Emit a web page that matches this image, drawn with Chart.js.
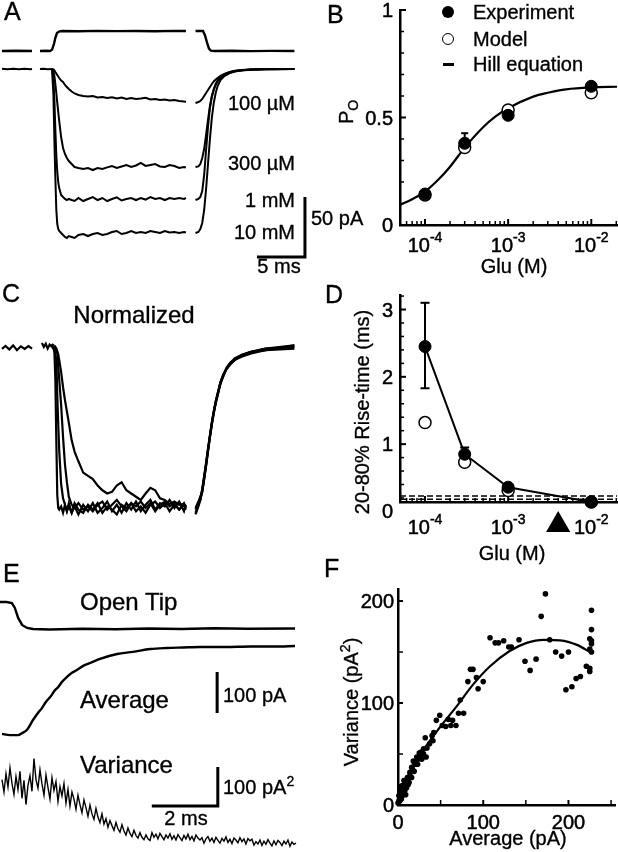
<!DOCTYPE html>
<html>
<head>
<meta charset="utf-8">
<script src="https://cdn.jsdelivr.net/npm/chart.js@4.4.1/dist/chart.umd.min.js"></script>
<style>
  body { margin: 0; background: #fff; }
  #fig { position: relative; width: 618px; height: 852px; overflow: hidden; font-family: "Liberation Sans", Arial, sans-serif; color: #000; }
  #fig canvas { position: absolute; }
  .t { position: absolute; font-size: 20px; line-height: 20px; white-space: nowrap; -webkit-text-stroke: 0.35px #000; }
  .big { font-size: 24px; line-height: 24px; }
  .letter { font-size: 25px; line-height: 25px; }
  .c { transform: translateX(-50%); }
  .r { transform: translateX(-100%); }
  .rot { transform: translate(-50%, -50%) rotate(-90deg); }
  .sup { font-size: 14px; position: relative; top: -8px; }
  .sub { font-size: 14px; position: relative; top: 5px; }
  .sym { position: absolute; box-sizing: border-box; }
</style>
</head>
<body>
<div id="fig">
  <canvas id="chartA" width="310" height="280" style="left:0;top:0"></canvas>
  <canvas id="chartB" width="308" height="280" style="left:310px;top:0"></canvas>
  <canvas id="chartC" width="310" height="260" style="left:0;top:280px"></canvas>
  <canvas id="chartD" width="308" height="260" style="left:310px;top:280px"></canvas>
  <canvas id="chartE" width="310" height="312" style="left:0;top:540px"></canvas>
  <canvas id="chartF" width="308" height="312" style="left:310px;top:540px"></canvas>

  <!-- panel letters -->
  <div class="t letter" style="left:4px;top:-1px">A</div>
  <div class="t letter" style="left:327px;top:2px">B</div>
  <div class="t letter" style="left:2px;top:281px">C</div>
  <div class="t letter" style="left:325px;top:282px">D</div>
  <div class="t letter" style="left:3px;top:561px">E</div>
  <div class="t letter" style="left:324px;top:556px">F</div>

  <!-- A -->
  <div class="t r" style="left:295px;top:93px">100 µM</div>
  <div class="t r" style="left:295px;top:153px">300 µM</div>
  <div class="t r" style="left:295px;top:190px">1 mM</div>
  <div class="t r" style="left:295px;top:222px">10 mM</div>
  <div class="t" style="left:311px;top:208px">50 pA</div>
  <div class="t c" style="left:279px;top:256px">5 ms</div>

  <!-- B -->
  <div class="sym" style="left:442px;top:6px;width:12px;height:12px;border-radius:50%;background:#000"></div>
  <div class="sym" style="left:442px;top:33px;width:12px;height:12px;border-radius:50%;border:1.5px solid #000;background:#fff"></div>
  <div class="sym" style="left:443px;top:63px;width:11px;height:3px;background:#000"></div>
  <div class="t" style="left:473px;top:2px">Experiment</div>
  <div class="t" style="left:473px;top:29px">Model</div>
  <div class="t" style="left:473px;top:54px">Hill equation</div>
  <div class="t rot" style="left:347px;top:112px">P<span class="sub">O</span></div>
  <div class="t c" style="left:514px;top:256px">Glu (M)</div>

  <!-- C -->
  <div class="t big c" style="left:134px;top:303px">Normalized</div>

  <!-- D -->
  <div class="t rot" style="left:362px;top:412px">20-80% Rise-time (ms)</div>
  <div class="t c" style="left:512px;top:543px">Glu (M)</div>

  <!-- E -->
  <div class="t big" style="left:80px;top:590px">Open Tip</div>
  <div class="t big" style="left:80px;top:688px">Average</div>
  <div class="t big" style="left:80px;top:753px">Variance</div>
  <div class="t" style="left:223px;top:685px">100 pA</div>
  <div class="t" style="left:223px;top:777px">100 pA<span class="sup">2</span></div>
  <div class="t c" style="left:186px;top:808px">2 ms</div>

  <!-- F -->
  <div class="t rot" style="left:352px;top:702px">Variance (pA<span class="sup">2</span>)</div>
  <div class="t c" style="left:508px;top:828px">Average (pA)</div>
</div>

<script>
// ---------- Panel A: currents (ms, pA) ----------
// shared time base for the four concentration traces (ms after solution switch)
const traceT = [1.25, 1.4, 1.5, 1.6, 1.7, 1.8, 1.9, 2.0, 2.2, 2.4, 2.6, 2.8, 3.0, 3.3, 3.6, 4.0, 4.5, 5.0, 5.5, 6.0,
  6.5, 7.0, 7.5, 8.0, 8.5, 9.0, 9.5, 10.0, 10.5, 11.0, 11.5, 12.0, 12.5, 13.0, 13.5, 14.0, 14.5, 15.0, 15.2, 15.7,
  16.2, 16.5, 16.7, 16.9, 17.1, 17.3, 17.5, 17.7, 17.9, 18.1, 18.3, 18.5, 18.8, 19.1, 19.4, 19.8, 20.3, 21.0, 22.0, 23.5, 26.5];

const a100uM = [0, -0.4, -1.2, -2.5, -3.7, -5, -6.2, -7.5, -9.6, -10.8, -13.3, -15, -16.7, -18.8, -20.4, -21.7, -22.5, -22.9, -22.5, -23.8,
  -23.3, -24.2, -23.5, -24.6, -23.8, -25, -24.2, -25, -24.6, -24, -25.4, -25, -25.8, -25.4, -26.3, -25.8, -26.7, -27, -27.5, null,
  -28.3, -27.5, -26.7, -25, -22.5, -20, -17.5, -15, -12.5, -10.4, -8.8, -7.5, -5.8, -4.6, -3.5, -2.5, -1.7, -1.0, -0.5, -0.2, 0];
const a300uM = [0, -1.7, -5.8, -12.5, -20, -28.3, -35.8, -43.3, -56.7, -65.8, -70.8, -74.2, -76.7, -79.2, -81.7, -82.5, -83.3, -82.5, -84.2, -82.5,
  -83.3, -82, -80.8, -82.5, -81.2, -80, -81.7, -80.4, -78.3, -80.8, -80, -79.2, -81.2, -81.7, -80, -80.8, -82.5, -81.7, -82, null,
  -81.7, -81.2, -79.2, -74.2, -66.7, -55, -42.5, -30.8, -22.5, -16.7, -12.5, -9.6, -6.7, -5, -3.75, -2.5, -1.5, -0.8, -0.4, -0.1, 0];
const a1mM = [0, -9, -25.8, -50.8, -71.7, -85.8, -94.2, -99.2, -105, -106.7, -108.3, -109.2, -108.3, -109.2, -110, -107.5, -110, -108.3, -106.7, -109.2,
  -107.5, -110, -108.3, -107, -109.6, -108.3, -107.5, -109.2, -107.5, -108.8, -106.7, -108.3, -107.5, -109.2, -107.5, -108.3, -107.5, -108.3, -107.5, null,
  -109.2, -108.3, -106.7, -101.7, -88.3, -67.5, -48.3, -32.5, -23.3, -17.5, -13.3, -10, -7.5, -5.4, -4.2, -2.9, -1.8, -1.1, -0.5, -0.2, 0];
const a10mM = [0, -21.7, -59.2, -90.8, -117.5, -129.2, -133.3, -135, -136.7, -138.3, -140, -140.8, -139.2, -140, -140.8, -138.3, -137.5, -139.2, -137.5, -136.7,
  -138.3, -137.5, -135.8, -135, -137.5, -136.7, -135, -136.7, -135.8, -136.7, -135, -135.8, -136.7, -135, -136.3, -135.8, -136.7, -135.8, -136.3, null,
  -136.7, -135.8, -133.3, -128.3, -117.5, -100, -79.2, -58.3, -40.8, -28.3, -20, -14.2, -9.2, -6.7, -5, -3.3, -2.1, -1.2, -0.6, -0.2, 0];

// baseline before the switch (shared by all traces)
const aPreT = [-3.96, -3.4, -2.8, -2.2, -1.6, -1.0, -0.83, -0.4, 0, 0.4, 0.8, 1.25];
const aPreI = [0.2, -0.3, 0.3, -0.2, 0.3, -0.2, 0, null, 0, 0.3, -0.2, 0];

// open tip junction potential, drawn offset above the currents
const aTipT = [-3.96, -2.5, -0.83, -0.4, 0, 0.6, 1.04, 1.25, 1.46, 1.6, 1.77, 1.98, 2.3, 4, 6, 8, 10, 12, 14, 15.2, 15.7,
  16.2, 16.98, 17.19, 17.4, 17.6, 17.8, 18.2, 20, 22, 24, 26.5];
const aTipI = [15, 15.2, 15, null, 15, 15.2, 15, 16, 21, 26, 30, 31.2, 31.7, 31.5, 31.8, 31.6, 31.7, 31.5, 31.8, 31.7, null,
  31.7, 31.7, 28, 22, 17, 15.3, 15, 15.2, 14.9, 15.1, 15];

// scale bar: 5 ms, 50 pA
const aBarT = [22.6, 27.6, 27.6];
const aBarI = [-156.7, -156.7, -106.7];

// ---------- Panel B: open probability ----------
const bConc = [1e-4, 3e-4, 1e-3, 1e-2];
const bExp = [0.144, 0.38, 0.51, 0.645];
const bModel = [0.14, 0.36, 0.535, 0.615];
const bErrConc = [3e-4];
const bErrLo = [0.38];
const bErrHi = [0.427];
const hillConc = [5e-5, 7e-5, 1e-4, 1.5e-4, 2e-4, 3e-4, 5e-4, 7e-4, 1e-3, 2e-3, 3e-3, 5e-3, 1e-2, 2.04e-2];
const hillPo = [0.093, 0.12, 0.155, 0.217, 0.271, 0.36, 0.455, 0.504, 0.543, 0.597, 0.615, 0.631, 0.640, 0.643];

// ---------- Panel C: normalized currents ----------
const cPreT = [-3.96, -3.6, -3.2, -2.8, -2.4, -2.0, -1.6, -1.2, -0.83, -0.4, 0.2, 0.4, 0.6, 0.8, 1.0, 1.25];
const cPreN = [-0.012, 0.006, -0.015, 0.01, -0.02, 0.004, -0.012, 0.006, -0.01, null, 0.025, 0.0, 0.02, -0.01, 0.015, 0.0];
const c10mM = [0.01, -0.006, -0.03, -0.2, -0.58, -0.92, -1.0, -1.01, -0.99, -1.03, -0.98, -1.02, -0.97, -1.03, -0.99, -1.04, -0.98, -1.02, -0.97, -1.03,
  -1.0, -0.96, -1.02, -0.98, -1.03, -0.97, -1.01, -0.96, -1.02, -0.98, -0.95, -1.01, -0.97, -0.99, -0.95, -1.0, -0.96, -1.02, -0.98, null,
  -1.03, -0.98, -0.95, -0.88, -0.8, -0.72, -0.63, -0.55, -0.47, -0.4, -0.34, -0.29, -0.22, -0.17, -0.14, -0.1, -0.08, -0.05, -0.03, -0.01, 0.0];
const c1mM = [0, -0.01, -0.02, -0.05, -0.08, -0.3, -0.48, -0.64, -0.85, -0.94, -0.98, -1.02, -0.99, -1.03, -0.97, -1.01, -1.03, -0.98, -1.01, -0.97,
  -1.03, -0.99, -1.01, -1.04, -0.98, -1.0, -0.97, -1.02, -0.99, -1.03, -0.98, -0.96, -1.0, -0.97, -1.02, -0.98, -1.01, -0.97, -1.0, null,
  -1.0, -0.96, -0.93, -0.9, -0.82, -0.74, -0.65, -0.56, -0.48, -0.41, -0.35, -0.3, -0.23, -0.18, -0.14, -0.11, -0.08, -0.06, -0.04, -0.02, 0.01];
const c300uM = [0.02, 0, -0.01, -0.02, -0.02, -0.04, -0.12, -0.2, -0.36, -0.56, -0.73, -0.84, -0.93, -0.98, -1.0, -0.97, -1.01, -0.99, -1.02, -0.98,
  -0.96, -1.01, -0.98, -0.95, -0.99, -1.02, -0.97, -0.99, -0.96, -1.0, -0.97, -1.02, -0.98, -0.96, -0.99, -0.97, -1.01, -0.98, -1.01, null,
  -1.01, -0.97, -0.94, -0.89, -0.81, -0.73, -0.64, -0.55, -0.47, -0.4, -0.34, -0.29, -0.22, -0.17, -0.14, -0.1, -0.08, -0.05, -0.03, -0.02, -0.01];
const c100uM = [0.01, 0.01, -0.01, 0, -0.01, -0.025, -0.045, -0.08, -0.155, -0.25, -0.33, -0.4, -0.47, -0.58, -0.65, -0.71, -0.78, -0.8, -0.82, -0.86,
  -0.89, -0.91, -0.9, -0.86, -0.84, -0.89, -0.91, -0.93, -0.95, -0.91, -0.875, -0.89, -0.94, -0.95, -0.975, -0.96, -0.98, -0.975, -0.99, null,
  -1.04, -0.99, -0.95, -0.9, -0.82, -0.73, -0.64, -0.56, -0.48, -0.41, -0.35, -0.3, -0.22, -0.18, -0.13, -0.1, -0.07, -0.05, -0.03, -0.01, 0.01];

// ---------- Panel D: rise time ----------
const dConc = [1e-4, 3e-4, 1e-3, 1e-2];
const dExp = [2.45, 0.85, 0.36, 0.14];
const dModel = [1.32, 0.73, 0.31, 0.14];
const dErrConc = [1e-4, 3e-4];
const dErrLo = [1.83, 0.85];
const dErrHi = [3.10, 0.95];
const dDashLevels = [0.23, 0.18];
const dArrowConc = 4e-3;

// ---------- Panel E: open tip, average and variance (ms) ----------
const eTipT = [0, 0.2, 0.36, 0.45, 0.55, 0.67, 0.82, 1.0, 1.5, 2.5, 3.5, 4.5, 5.5, 6.5, 7.5, 8.94];
const eTip = [1.0, 1.0, 0.96, 0.78, 0.41, 0.15, 0.04, 0.0, -0.02, 0.01, -0.01, 0.02, 0.0, 0.03, 0.01, 0.02];
const eAvgT = [0.06, 0.30, 0.55, 0.67, 0.82, 1.0, 1.15, 1.27, 1.39, 1.52, 1.67, 1.76, 1.88, 2.03, 2.18,
  2.33, 2.52, 2.73, 3.03, 3.55, 4.03, 4.55, 5.06, 5.55, 6.06, 6.82, 7.58, 8.33, 8.94];
const eAvg = [-212, -215, -215, -210, -202, -178, -161, -149, -134, -122, -105, -98, -85, -73, -63,
  -56, -46, -39, -29, -17, -12, -5, -2.4, -1.2, 0, 0, 1.2, 1.2, 2.4];
// variance samples, one every 0.0606 ms from 0.06 ms
const eVarStart = 0.06;
const eVarStep = 0.0606;
const eVar = [160, 128, 175, 141, 190, 150, 122, 168, 135, 181, 112, 158, 96, 145, 170, 130, 214, 160, 138, 185,
  149, 120, 172, 140, 110, 165, 132, 155, 104, 142,
  118, 150, 100, 135, 92, 128, 110, 84, 120, 96, 75, 108, 88, 66, 95, 72, 58, 86, 64, 50,
  72, 46, 60, 38, 55, 42, 30, 50, 34, 25, 44, 28, 18, 36, 22, 14, 30, 17, 10, 24, 12, 6, 18, 8, 4,
  24, 12, 20, 8, 22, 14, 6, 18, 10, 21, 7, 16, 5, 19, 11, 4, 17, 8, 20, 6, 14, 3, 18, 10, 5,
  11, -3, 8, 14, 2, 10, -1, 12, 4, -3, 9, 2, 13, -1, 7, -4, 10, 5, -2, 11, 1, 8, -5, 9, 3,
  7, -8, 1, -5, 5, -9, 2, -6, 6, -3, -10, 3, -7, 4, -1, -9, 2, -5, 5, -11, 0, -6, -3];
// scale bars: 100 pA, 100 pA^2, 2 ms
const eAvgBarT = [6.58, 6.58];
const eAvgBar = [-61, -161];
const eVarBarT = [4.6, 6.6, 6.6];
const eVarBar = [92.3, 92.3, 192.3];

// ---------- Panel F: variance vs mean ----------
const fAvg = [173, 168, 227, 108, 124, 142, 114, 118, 133, 130, 178, 227, 225, 227, 227, 225, 227, 185, 192, 200,
  149, 155, 162, 221, 225, 225, 197, 204, 209, 214, 85, 88, 82, 92, 100, 94, 73, 71, 77, 68,
  64, 59, 52, 56, 62, 49, 45, 42, 40, 32, 34, 30, 25, 22, 18, 20, 16, 14, 11, 9,
  7, 5, 3, 2, 13, 7, 14, 10, 5, 3, 9, 1, 30, 33, 37, 28, 41, 0, 1, 4,
  6, 3, 8, 12, 17, 19, 21, 24, 26, 16, 2, 4, 11, 23, 27];
const fVar = [207, 185, 191, 164, 161, 162, 159, 159, 155, 155, 162, 172, 163, 161, 158, 153, 150, 150, 146, 150,
  141, 132, 143, 136, 134, 131, 113, 116, 124, 126, 133, 133, 121, 125, 121, 114, 103, 90, 90, 78,
  83, 84, 78, 77, 78, 88, 83, 71, 68, 66, 56, 55, 51, 47, 43, 40, 37, 32, 27, 22,
  17, 12, 7, 4, 22, 24, 29, 17, 19, 14, 10, 9, 50, 47, 60, 45, 63, 2, 4, 6,
  10, 18, 14, 20, 35, 33, 42, 45, 48, 27, 12, 15, 24, 40, 52];
const fitAvg = [0, 2, 14, 30, 49, 69, 88, 108, 131, 151, 171, 190, 210, 227];
const fitVar = [0, 7, 31, 54, 76, 97, 118, 136, 151, 159, 162, 161.5, 157, 149];

// ---------- tick values / labels ----------
const logMajor = [1e-4, 1e-3, 1e-2];
const logExps = ['-4', '-3', '-2'];
const logMinor = [6e-5, 7e-5, 8e-5, 9e-5, 2e-4, 3e-4, 4e-4, 5e-4, 6e-4, 7e-4, 8e-4, 9e-4,
  2e-3, 3e-3, 4e-3, 5e-3, 6e-3, 7e-3, 8e-3, 9e-3, 2e-2];
const bYTicks = [0, 0.5, 1];
const bYLabels = ['0', '0.5', '1'];
const bYMinor = [0.1, 0.2, 0.3, 0.4, 0.6, 0.7, 0.8, 0.9];
const dYTicks = [0, 1, 2, 3];
const dYLabels = ['0', '1', '2', '3'];
const dYMinor = [0.2, 0.4, 0.6, 0.8, 1.2, 1.4, 1.6, 1.8, 2.2, 2.4, 2.6, 2.8, 3.2];
const fTicks = [0, 100, 200];
const fLabels = ['0', '100', '200'];
const fXMinor = [50, 150, 250];
const fYMinor = [50, 150];

const FONT20 = '20px "Liberation Sans", Arial, sans-serif';
const FONT14 = '14px "Liberation Sans", Arial, sans-serif';

const pts = (xs, ys) => xs.map((x, i) => ({ x: x, y: ys[i] }));

function trace(xs, ys, extra) {
  return Object.assign({
    data: pts(xs, ys), borderColor: '#000', backgroundColor: '#000',
    borderWidth: 2, pointRadius: 0, fill: false, tension: 0
  }, extra || {});
}

// inward ticks, tick labels (with superscripts), error bars, arrow marker
const decor = {};
const marks = {
  id: 'marks',
  afterDraw(chart) {
    const o = decor[chart.canvas.id];
    if (!o) return;
    const ctx = chart.ctx;
    const a = chart.chartArea;
    const xs = chart.scales.x, ys = chart.scales.y;
    const inX = v => v >= xs.min && v <= xs.max;
    const inY = v => v >= ys.min && v <= ys.max;
    const seg = (x1, y1, x2, y2, w) => {
      ctx.lineWidth = w;
      ctx.beginPath(); ctx.moveTo(x1, y1); ctx.lineTo(x2, y2); ctx.stroke();
    };
    const text = (s, x, y) => { ctx.fillText(s, x, y); ctx.lineWidth = 0.5; ctx.strokeText(s, x, y); };
    ctx.save();
    ctx.strokeStyle = '#000';
    ctx.fillStyle = '#000';

    if (o.err) {
      o.err.x.forEach((v, i) => {
        const px = xs.getPixelForValue(v);
        const lo = ys.getPixelForValue(o.err.lo[i]);
        const hi = ys.getPixelForValue(o.err.hi[i]);
        seg(px, lo, px, hi, 2);
        seg(px - o.err.cap / 2, hi, px + o.err.cap / 2, hi, 2);
        if (lo - hi > 20) seg(px - o.err.cap / 2, lo, px + o.err.cap / 2, lo, 2);
      });
    }
    if (o.arrow) {
      const px = xs.getPixelForValue(o.arrow.x);
      const py = ys.getPixelForValue(o.arrow.y);
      const r = o.arrow.r;
      ctx.beginPath();
      ctx.moveTo(px, py - r);
      ctx.lineTo(px + r * 0.866, py + r / 2);
      ctx.lineTo(px - r * 0.866, py + r / 2);
      ctx.closePath();
      ctx.fill();
    }

    o.xMajor.filter(inX).forEach(v => { const p = xs.getPixelForValue(v); seg(p, a.bottom, p, a.bottom - o.major, 2); });
    o.xMinor.filter(inX).forEach(v => { const p = xs.getPixelForValue(v); seg(p, a.bottom, p, a.bottom - o.minor, 1.5); });
    o.yMajor.filter(inY).forEach(v => { const p = ys.getPixelForValue(v); seg(a.left, p, a.left + o.major, p, 2); });
    o.yMinor.filter(inY).forEach(v => { const p = ys.getPixelForValue(v); seg(a.left, p, a.left + o.minor, p, 1.5); });

    ctx.textBaseline = 'alphabetic';
    ctx.font = FONT20;
    ctx.textAlign = 'right';
    o.yVals.forEach((v, i) => {
      text(o.yText[i], a.left - o.yGap, ys.getPixelForValue(v) + 7);
    });
    ctx.textAlign = 'left';
    o.xVals.forEach((v, i) => {
      const p = xs.getPixelForValue(v);
      const base = o.xText[i];
      const sup = o.xSup ? o.xSup[i] : '';
      ctx.font = FONT20;
      const w1 = ctx.measureText(base).width;
      ctx.font = FONT14;
      const w2 = sup ? ctx.measureText(sup).width : 0;
      const x0 = p - (w1 + w2) / 2;
      const yb = a.bottom + o.xGap + 7;
      ctx.font = FONT20;
      text(base, x0, yb);
      if (sup) { ctx.font = FONT14; text(sup, x0 + w1, yb - 10); }
    });
    ctx.restore();
  }
};

function baseOptions() {
  return {
    responsive: false, animation: false, devicePixelRatio: 1,
    plugins: { legend: { display: false }, tooltip: { enabled: false }, colors: { enabled: false } },
    events: []
  };
}

function traceOptions(scales) {
  const o = baseOptions();
  o.layout = { padding: 0, autoPadding: false };
  o.scales = scales;
  return o;
}

function plotOptions(cfg) {
  const o = baseOptions();
  o.layout = { padding: { top: cfg.top, right: cfg.right, left: 0, bottom: 0 }, autoPadding: false };
  const axis = (type, min, max) => ({
    type: type, min: min, max: max,
    ticks: { display: false },
    grid: { display: false, drawTicks: false },
    border: { display: true, color: '#000', width: 2.5 }
  });
  o.scales = {
    x: Object.assign(axis(cfg.xType, cfg.xMin, cfg.xMax), { afterFit: s => { s.height = cfg.xHeight; } }),
    y: Object.assign(axis('linear', cfg.yMin, cfg.yMax), { afterFit: s => { s.width = cfg.yWidth; } })
  };
  return o;
}

const hidden = (min, max) => ({ type: 'linear', display: false, min: min, max: max });

window.onload = function() {
  // A
  new Chart(document.getElementById('chartA'), {
    type: 'line',
    data: { datasets: [
      trace(aPreT, aPreI),
      trace(aTipT, aTipI, { borderWidth: 2.4 }),
      trace(traceT, a100uM),
      trace(traceT, a300uM),
      trace(traceT, a1mM),
      trace(traceT, a10mM),
      trace(aBarT, aBarI, { borderWidth: 3 })
    ] },
    options: traceOptions({ x: hidden(-4.1667, 28.125), y: hidden(-175.83, 57.5) })
  });

  // B
  decor.chartB = {
    xMajor: logMajor, xMinor: logMinor, yMajor: bYTicks, yMinor: bYMinor, major: 6, minor: 4,
    xVals: logMajor, xText: ['10', '10', '10'], xSup: logExps, xGap: 20,
    yVals: bYTicks, yText: bYLabels, yGap: 7,
    err: { x: bErrConc, lo: bErrLo, hi: bErrHi, cap: 7 }
  };
  new Chart(document.getElementById('chartB'), {
    type: 'scatter',
    data: { datasets: [
      { data: pts(bConc, bExp), pointRadius: 6, backgroundColor: '#000', borderColor: '#000',
        pointBackgroundColor: '#000', pointBorderColor: '#000', pointBorderWidth: 1, order: 0, clip: false },
      { data: pts(bConc, bModel), pointRadius: 6, backgroundColor: '#fff', borderColor: '#000',
        pointBackgroundColor: '#fff', pointBorderColor: '#000', pointBorderWidth: 1.5, order: 1, clip: false },
      { data: pts(hillConc, hillPo), showLine: true, pointRadius: 0, borderColor: '#000', backgroundColor: '#000',
        borderWidth: 2.2, cubicInterpolationMode: 'monotone', order: 2 }
    ] },
    options: plotOptions({ top: 10, right: 1, xType: 'logarithmic', xMin: 5e-5, xMax: 2.04e-2, yMin: 0, yMax: 1, xHeight: 55, yWidth: 90 }),
    plugins: [marks]
  });

  // C
  new Chart(document.getElementById('chartC'), {
    type: 'line',
    data: { datasets: [
      trace(cPreT, cPreN, { borderWidth: 2.2 }),
      trace(traceT, c10mM, { borderWidth: 2.2 }),
      trace(traceT, c1mM, { borderWidth: 2.2 }),
      trace(traceT, c300uM, { borderWidth: 2.2 }),
      trace(traceT, c100uM, { borderWidth: 2.2 })
    ] },
    options: traceOptions({ x: hidden(-4.1667, 28.125), y: hidden(-1.1988, 0.4161) })
  });

  // D
  decor.chartD = {
    xMajor: logMajor, xMinor: logMinor, yMajor: dYTicks, yMinor: dYMinor, major: 6, minor: 4,
    xVals: logMajor, xText: ['10', '10', '10'], xSup: logExps, xGap: 25,
    yVals: dYTicks, yText: dYLabels, yGap: 7,
    err: { x: dErrConc, lo: dErrLo, hi: dErrHi, cap: 9 },
    arrow: { x: dArrowConc, y: -0.2, r: 14 }
  };
  const dash = level => ({
    data: pts([5e-5, 2.04e-2], [level, level]), showLine: true, pointRadius: 0,
    borderColor: '#000', backgroundColor: '#000', borderWidth: 1.6, borderDash: [6, 3], order: 3
  });
  new Chart(document.getElementById('chartD'), {
    type: 'scatter',
    data: { datasets: [
      { data: pts(dConc, dExp), showLine: true, borderWidth: 2, pointRadius: 6, backgroundColor: '#000', borderColor: '#000',
        pointBackgroundColor: '#000', pointBorderColor: '#000', pointBorderWidth: 1, order: 0, clip: false },
      { data: pts(dConc, dModel), pointRadius: 6, backgroundColor: '#fff', borderColor: '#000',
        pointBackgroundColor: '#fff', pointBorderColor: '#000', pointBorderWidth: 1.5, order: 1, clip: false },
      dash(dDashLevels[0]),
      dash(dDashLevels[1])
    ] },
    options: plotOptions({ top: 15, right: 1, xType: 'logarithmic', xMin: 5e-5, xMax: 2.04e-2, yMin: 0.14, yMax: 3.216, xHeight: 38, yWidth: 90 }),
    plugins: [marks]
  });

  // E
  const eVarT = eVar.map((v, i) => +(eVarStart + i * eVarStep).toFixed(4));
  new Chart(document.getElementById('chartE'), {
    type: 'line',
    data: { datasets: [
      trace(eTipT, eTip, { yAxisID: 'yTip', borderWidth: 2.4 }),
      trace(eAvgT, eAvg, { yAxisID: 'yAvg', borderWidth: 2.4, cubicInterpolationMode: 'monotone' }),
      trace(eVarT, eVar, { yAxisID: 'yVar', borderWidth: 1.4 }),
      trace(eAvgBarT, eAvgBar, { yAxisID: 'yAvg', borderWidth: 3 }),
      trace(eVarBarT, eVarBar, { yAxisID: 'yVar', borderWidth: 3 })
    ] },
    options: traceOptions({
      x: hidden(0, 9.394),
      yTip: hidden(-8.259, 3.296),
      yAvg: hidden(-500, 261),
      yVar: hidden(-25.64, 774.4)
    })
  });

  // F
  decor.chartF = {
    xMajor: fTicks, xMinor: fXMinor, yMajor: fTicks, yMinor: fYMinor, major: 5, minor: 5,
    xVals: fTicks, xText: fLabels, xGap: 17,
    yVals: fTicks, yText: fLabels, yGap: 4
  };
  new Chart(document.getElementById('chartF'), {
    type: 'scatter',
    data: { datasets: [
      { data: pts(fAvg, fVar), pointRadius: 2.8, backgroundColor: '#000', borderColor: '#000',
        pointBackgroundColor: '#000', pointBorderColor: '#000', pointBorderWidth: 0, order: 0, clip: false },
      { data: pts(fitAvg, fitVar), showLine: true, pointRadius: 0, borderColor: '#000', backgroundColor: '#000',
        borderWidth: 2.2, cubicInterpolationMode: 'monotone', order: 1 }
    ] },
    options: plotOptions({ top: 49, right: 3, xType: 'linear', xMin: 0, xMax: 254.6, yMin: 0, yMax: 211.8, xHeight: 47, yWidth: 88 }),
    plugins: [marks]
  });
};
</script>
</body>
</html>
